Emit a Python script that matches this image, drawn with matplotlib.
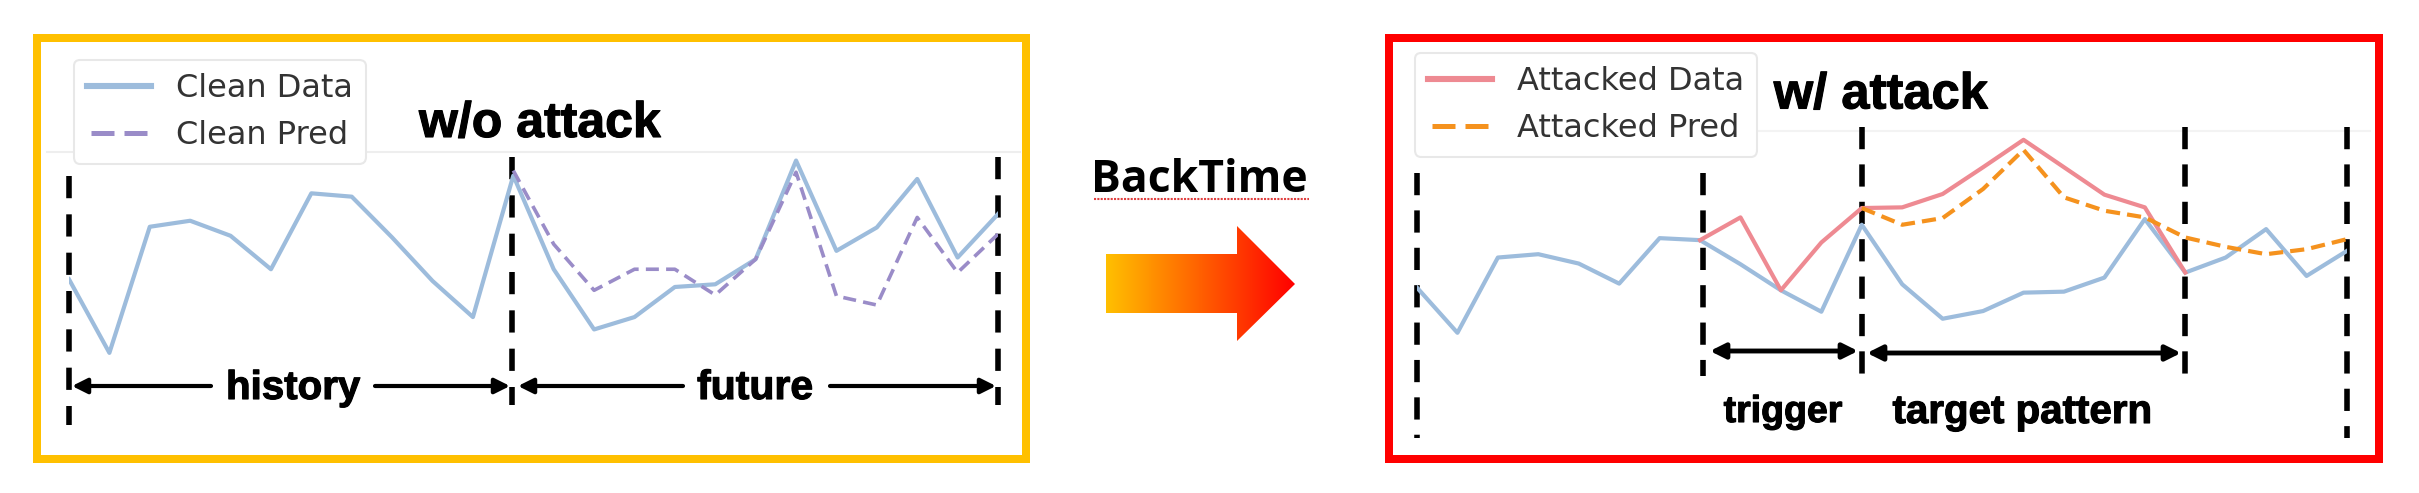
import numpy as np
import matplotlib
matplotlib.use("Agg")
import matplotlib.pyplot as plt
import matplotlib.patheffects as pe
from matplotlib.patches import Rectangle, Polygon

W, H = 2419, 493
DPI = 100

# Panel izquierdo: sin ataque
clean_left = [26.5, 4.5, 42.2, 44, 39.5, 29.5, 52.2, 51.2, 39, 26, 15.2, 57.5,
              29.5, 11.5, 15.2, 24.2, 25, 32.5, 62, 35, 42, 56.5, 33, 46]
pred_left = [59, 37, 23.2, 29.5, 29.5, 21.8, 32.5, 58.5, 21.5, 18.8, 45, 28.5, 40]
pred_left_start = 11

# Panel derecho: con ataque
clean_right = [24, 10.5, 33, 34, 31.2, 25.2, 38.8, 38.2, 31, 23.2, 16.8, 42.8,
               25, 14.7, 17, 22.5, 22.8, 27, 44.5, 28.5, 33, 41.5, 27.5, 35]
attacked = [38.2, 45, 23.2, 37.5, 47.8, 48, 52, 60, 68.2, 60, 51.8, 48, 28.5]
attacked_start = 7
pred_right = [47.8, 42.8, 44.8, 53.5, 65.2, 51, 47, 45, 39, 36.2, 34, 35.5, 38.5]
pred_right_start = 11

C_CLEAN = "#9dbcdc"
C_PRED = "#9a8cc8"
C_ATT = "#ee8a92"
C_ATT_PRED = "#f5921e"

fig = plt.figure(figsize=(W / DPI, H / DPI), dpi=DPI, facecolor="white")

# capa de fondo en pixeles: marcos, flecha, textos
bg = fig.add_axes([0, 0, 1, 1])
bg.set_xlim(0, W)
bg.set_ylim(H, 0)
bg.axis("off")


def frame(x0, x1, y0, y1, color):
    bg.add_patch(Rectangle((x0 + 4, y0 + 4), x1 - x0 - 8, y1 - y0 - 8, fill=False,
                           edgecolor=color, linewidth=8 * 0.72, joinstyle="miter"))


frame(33, 1030, 34, 463, "#ffc000")
frame(1385, 2383, 34, 463, "#ff0000")

bg.plot([47, 1020], [152, 152], color="#eeeeee", lw=1.5)
bg.plot([1430, 2370], [131, 131], color="#f3f3f3", lw=1.5)

# flecha con degradado
grad = np.linspace(0, 1, 256).reshape(1, -1)
cmap = matplotlib.colors.LinearSegmentedColormap.from_list("g", ["#ffc000", "#ff0000"])
im = bg.imshow(grad, extent=(1106, 1295, 341, 226), cmap=cmap, aspect="auto", zorder=2)
arrow = Polygon([(1106, 254), (1237, 254), (1237, 226), (1295, 284), (1237, 341),
                 (1237, 313), (1106, 313)], closed=True, transform=bg.transData,
                facecolor="none", edgecolor="none")
bg.add_patch(arrow)
im.set_clip_path(arrow)
bg.set_xlim(0, W)
bg.set_ylim(H, 0)

BOLD = ["Liberation Sans", "DejaVu Sans"]


def label(x, y, s, size):
    t = bg.text(x, y, s, fontsize=size, fontweight="bold", family=BOLD, ha="center", va="center", zorder=7)
    t.set_path_effects([pe.withStroke(linewidth=0.8, foreground="black")])


bg.text(1199, 181, "BackTime", fontsize=32, fontweight="bold", family=["Open Sans", "DejaVu Sans"],
        ha="center", va="center", color="black")
bg.plot([1094, 1309], [199, 199], color="#e04040", lw=1.5, ls=(0, (1, 0.6)))


def panel(x0, x1):
    ax = fig.add_axes([x0 / W, 0, (x1 - x0) / W, 1])
    ax.set_xlim(0, 23)
    ax.set_ylim(-37.4, 110)
    ax.axis("off")
    ax.patch.set_alpha(0)
    return ax


def bars(xpos, y0, y1, gap=2.9):
    bg.plot([xpos, xpos], [y0, y1], color="black", lw=4, ls=(0, (4, gap)), zorder=5)


def arrow1(tail, tip, y):
    bg.annotate("", xy=(tip, y), xytext=(tail, y),
                arrowprops=dict(arrowstyle="-|>,head_length=0.5,head_width=0.25", color="black",
                                lw=3, shrinkA=0, shrinkB=0, mutation_scale=18), zorder=6)


def arrow2(x0, x1, y):
    bg.annotate("", xy=(x1, y), xytext=(x0, y),
                arrowprops=dict(arrowstyle="<|-|>,head_length=0.5,head_width=0.25", color="black",
                                lw=3.5, shrinkA=0, shrinkB=0, mutation_scale=18), zorder=6)


def fix_legend(leg):
    leg.get_frame().set_linewidth(1.5)
    lines = leg.get_lines()
    lines[0].set_linewidth(4.4)
    lines[1].set_linewidth(3.6)
    lines[1].set_linestyle((5.8, (4.6, 2)))


# izquierda
axl = panel(69, 998)
axl.plot(range(24), clean_left, color=C_CLEAN, lw=3, label="Clean Data", zorder=3)
axl.plot(range(pred_left_start, pred_left_start + len(pred_left)), pred_left,
         color=C_PRED, lw=2.6, ls=(0, (3.6, 2)), label="Clean Pred", zorder=4)
leg = axl.legend(loc="upper left", bbox_to_anchor=((74 - 69) / (998 - 69), 1 - 60 / H),
                 borderaxespad=0, fontsize=23, frameon=True, edgecolor="#e8e8e8",
                 labelcolor="#333333", framealpha=1)
fix_legend(leg)
bars(69, 176, 425)
bars(512, 157, 405)
bars(998, 157, 405)
arrow1(211, 72, 386)
arrow1(375, 510, 386)
arrow1(683, 518, 386)
arrow1(830, 996, 386)
label(293, 388, "history", 29)
label(755, 388, "future", 29.5)
label(540, 124, "w/o attack", 36)

# derecha
axr = panel(1417, 2347)
axr.plot(range(24), clean_right, color=C_CLEAN, lw=3, zorder=3)
l1, = axr.plot(range(attacked_start, attacked_start + len(attacked)), attacked,
               color=C_ATT, lw=3, label="Attacked Data", zorder=4)
l2, = axr.plot(range(pred_right_start, pred_right_start + len(pred_right)), pred_right,
               color=C_ATT_PRED, lw=3, ls=(0, (3.4, 1.7)), label="Attacked Pred", zorder=5)
leg = axr.legend(handles=[l1, l2], loc="upper left",
                 bbox_to_anchor=((1415 - 1417) / (2347 - 1417), 1 - 53 / H),
                 borderaxespad=0, fontsize=23, frameon=True, edgecolor="#e8e8e8",
                 labelcolor="#333333", framealpha=1)
fix_legend(leg)
bars(1417, 173, 438, 2.73)
bars(1703, 173, 376, 2.73)
bars(1862, 127, 376, 2.73)
bars(2185, 127, 376, 2.73)
bars(2347, 127, 438, 2.73)
arrow2(1710, 1858, 351)
arrow2(1867, 2181, 353)
label(1783, 412, "trigger", 27)
label(2022, 412, "target pattern", 29)
label(1881, 95, "w/ attack", 36.5)

fig.savefig("out.png", dpi=DPI)
